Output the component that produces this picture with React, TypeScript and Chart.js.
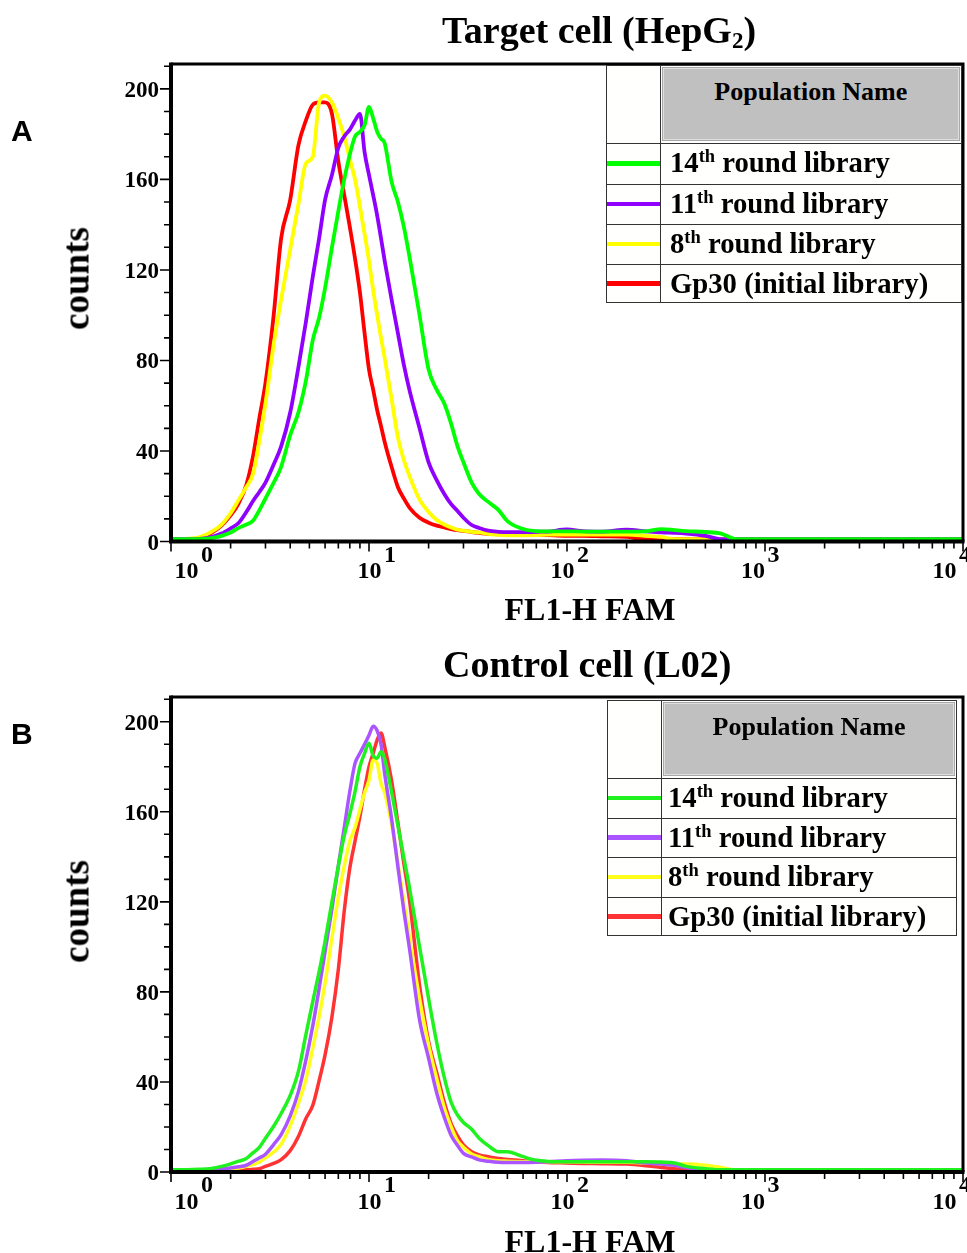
import React, { useEffect, useRef } from "react";
import { Chart, registerables } from "chart.js";

Chart.register(...registerables);

const SERIF = '"Liberation Serif", "Times New Roman", Times, serif';
const SANS = '"Liberation Sans", Arial, Helvetica, sans-serif';

// FL1-H FAM channel intensities shared by all histograms (log axis)
const fluorescence = [
  1, 1.2, 1.4, 1.6, 1.8, 2, 2.2, 2.4, 2.6, 2.8,
  3, 3.3, 3.6, 4, 4.4, 4.8, 5.2, 5.6, 6, 6.5,
  7, 7.5, 8, 8.5, 9, 9.5, 10, 10.5, 11, 11.5,
  12, 13, 14, 15, 16, 18, 20, 22, 24, 26,
  28, 30, 33, 36, 40, 45, 50, 60, 70, 80,
  100, 120, 150, 200, 250, 300, 350, 400, 500, 600,
  700, 800, 1000, 2000, 5000, 10000,
];

// Panel A: target cell (HepG2)
const hepg2Round14 = [
  1, 1, 1, 1.5, 2.5, 4, 6, 7.5, 9.3, 14,
  19, 26, 33, 47, 57, 71, 89, 99, 112, 130,
  146, 160, 171, 179, 181, 184, 192, 187, 181, 178,
  176, 159, 150, 139, 126, 100, 76, 67, 61, 52,
  42, 35, 26, 21, 17.5, 14, 9, 5.5, 4.6, 4.5,
  4.5, 4.4, 4.4, 4.4, 4.5, 5.5, 5, 4.6, 4.2, 3.5,
  1.2, 1, 1, 1, 1, 1,
];
const hepg2Round11 = [
  1, 1, 1.2, 2, 3.5, 5.8, 8.3, 13, 18, 22,
  26, 34, 42, 57, 77, 97, 117, 134, 151, 162,
  174, 179, 182, 186, 189, 172, 162, 153, 144, 134,
  124, 107, 92, 78, 67, 50, 35, 27, 21, 16.5,
  13.5, 10.5, 7.3, 6, 4.8, 4.3, 4.1, 4.1, 4.3, 4.4,
  5.3, 4.6, 4.4, 5.2, 4.5, 4, 3.8, 3.5, 2.5, 1,
  1, 1, 1, 1, 1, 1,
];
const hepg2Round8 = [
  1, 1.2, 2, 4.3, 7.5, 12.5, 18.5, 24, 30, 45,
  61, 87, 107, 129, 149, 167, 170, 194, 197, 194,
  187, 179, 169, 160, 148, 136, 124, 111, 100, 90,
  81, 63, 46, 36, 29, 18.5, 13, 9.5, 7.5, 6.2,
  5.2, 4.8, 4.3, 4, 3.4, 2.9, 2.7, 2.7, 2.8, 3,
  3, 3, 3, 3, 2.5, 2, 1, 1, 1, 1,
  1, 1, 1, 1, 1, 1,
];
const hepg2Gp30 = [
  1, 1, 1.5, 3.8, 7, 11.5, 17, 25, 38, 55,
  70, 100, 134, 151, 175, 186, 193, 194, 194, 189,
  168, 153, 139, 125, 110, 92, 76, 67, 58, 51,
  44, 33, 24, 19, 15, 10.5, 8.3, 7, 6.2, 5.5,
  5, 4.7, 4.2, 3.8, 3.4, 3.2, 3, 3, 3, 2.8,
  2.5, 2.5, 2.3, 2, 1, 1, 1, 1, 1, 1,
  1, 1, 1, 1, 1, 1,
];

// Panel B: control cell (L02)
const l02Round14 = [
  1, 1, 1.2, 1.6, 2.5, 3.6, 4.8, 6, 8.6, 11.1,
  15, 20.3, 26, 34, 44.7, 61, 75.7, 89, 102.5, 120,
  135.8, 149.4, 159, 169, 180, 186, 190.5, 184.8, 183.8, 186.7,
  183.5, 168.8, 153.8, 139.6, 126.5, 100, 77, 57.3, 42, 30.9,
  25.3, 22, 19, 15, 11.7, 9, 9, 6.8, 5.2, 4.7,
  4.5, 4.5, 4.5, 4.5, 4.5, 4.4, 4, 2.5, 1.5, 1,
  1, 1, 1, 1, 1, 1,
];
const l02Round11 = [
  1, 1, 1, 1.2, 1.4, 1.8, 2.3, 3, 4.7, 6.3,
  7.9, 12.2, 16.6, 24.9, 35.7, 49.7, 64.9, 81.5, 98, 117,
  136, 153, 169, 181.5, 186, 190, 194, 198, 196, 190,
  177, 157, 135.5, 116, 99.5, 67.6, 50.5, 35, 24.3, 16.2,
  11.8, 8.3, 6.7, 5.4, 4.8, 4.3, 4.2, 4.2, 4.3, 4.5,
  5, 5.2, 5.3, 5, 4, 3.5, 3, 2, 1, 1,
  1, 1, 1, 1, 1, 1,
];
const l02Round8 = [
  1, 1, 1, 1, 1.2, 1.4, 1.8, 2.5, 3.4, 4.5,
  6.3, 8.9, 12.3, 20.5, 30.5, 41, 55, 69, 84, 104,
  122, 136, 147, 153, 161, 168.5, 174, 183, 181.5, 172.6,
  168.5, 154.6, 137, 120, 104.5, 77, 56.4, 41.3, 28.5, 20,
  13.8, 11, 8, 6.8, 5.6, 5, 4.8, 4.6, 4.5, 4.5,
  4.5, 4.4, 4.3, 4.3, 4, 3.8, 3.5, 3.5, 3, 2,
  1, 1, 1, 1, 1, 1,
];
const l02Gp30 = [
  1, 1, 1, 1, 1, 1, 1, 1, 1.2, 1.5,
  2.5, 3.8, 5.5, 9.5, 15.8, 23.8, 29.6, 40.6, 52, 69,
  90, 116, 135, 147, 158, 170, 180, 186, 192, 195,
  189, 174, 155, 137, 121, 83, 58, 44, 31, 21.5,
  16, 12, 9, 7.6, 6.8, 6, 5.6, 5, 4.5, 4.2,
  4, 3.8, 3.7, 3.5, 2.8, 2, 1.5, 1, 1, 1,
  1, 1, 1, 1, 1, 1,
];

const seriesLabels = [
  "14th round library",
  "11th round library",
  "8th round library",
  "Gp30 (initial library)",
];
const hepg2Colors = ["#00ff00", "#8f00ff", "#ffff00", "#ff0000"];
const l02Colors = ["#1ff21f", "#aa55ff", "#ffff1e", "#ff3333"];

const yTickValues = [0, 40, 80, 120, 160, 200];
const xDecadeValues = [1, 10, 100, 1000, 10000];
const xDecadeExponents = ["0", "1", "2", "3", "4"];
const Y_MAX = 211;

// horizontal shift of each "10^n" label relative to its tick
const xLabelShift = [15.5, 0.5, -4.5, -12, -18.5];

const axisDecor = {
  id: "axisDecor",
  afterDraw(chart: any) {
    const { ctx, chartArea, scales } = chart;
    const { left, right, top, bottom } = chartArea;
    const xs = scales.x;
    const ys = scales.y;
    ctx.save();
    ctx.strokeStyle = "#000";
    ctx.lineWidth = 1.6;
    ctx.beginPath();
    const maxV = xDecadeValues[xDecadeValues.length - 1];
    for (let k = 0; k < xDecadeValues.length; k++) {
      for (let m = 1; m <= 9; m++) {
        const v = xDecadeValues[k] * m;
        if (v > maxV) break;
        const px = xs.getPixelForValue(v);
        const len = m === 1 ? 8 : 5;
        ctx.moveTo(px, bottom);
        ctx.lineTo(px, bottom + 2 + len);
      }
    }
    for (let v = 0; v <= Y_MAX; v += 10) {
      const py = ys.getPixelForValue(v);
      const len = v % 40 === 0 ? 9 : 5;
      ctx.moveTo(left - 2 - len, py);
      ctx.lineTo(left, py);
    }
    ctx.stroke();

    ctx.lineWidth = 3;
    ctx.beginPath();
    ctx.moveTo(left, top);
    ctx.lineTo(right, top);
    ctx.lineTo(right, bottom);
    ctx.stroke();
    ctx.lineWidth = 4;
    ctx.beginPath();
    ctx.moveTo(left, top - 1.5);
    ctx.lineTo(left, bottom);
    ctx.lineTo(right + 1.5, bottom);
    ctx.stroke();

    ctx.fillStyle = "#000";
    ctx.textBaseline = "alphabetic";
    ctx.font = `bold 23px ${SERIF}`;
    ctx.textAlign = "right";
    yTickValues.forEach((v) => {
      const py = ys.getPixelForValue(v);
      ctx.fillText(String(v), left - 12, py + 8);
    });

    ctx.font = `bold 24px ${SERIF}`;
    xDecadeValues.forEach((v, i) => {
      const cx = xs.getPixelForValue(v) + xLabelShift[i];
      const w = ctx.measureText("10").width;
      ctx.textAlign = "center";
      ctx.fillText("10", cx, bottom + 36.5);
      ctx.textAlign = "left";
      ctx.fillText(xDecadeExponents[i], cx + w / 2 + 2.5, bottom + 20);
    });
    ctx.restore();
  },
};

function HistogramCanvas(props: {
  top: number;
  height: number;
  padTop: number;
  padBottom: number;
  series: number[][];
  colors: string[];
  lineWidth: number;
}) {
  const ref = useRef<HTMLCanvasElement | null>(null);
  useEffect(() => {
    if (!ref.current) return;
    const chart = new Chart(ref.current, {
      type: "line",
      data: {
        datasets: props.series.map((vals, i) => ({
          label: seriesLabels[i],
          data: fluorescence.map((x, j) => ({ x, y: vals[j] })),
          borderColor: props.colors[i],
          backgroundColor: props.colors[i],
          borderWidth: props.lineWidth,
          pointRadius: 0,
          cubicInterpolationMode: "monotone",
          fill: false,
        })),
      },
      options: {
        animation: false,
        responsive: false,
        maintainAspectRatio: false,
        events: [],
        layout: {
          padding: { left: 171, right: 4, top: props.padTop, bottom: props.padBottom },
        },
        plugins: {
          legend: { display: false },
          title: { display: false },
          tooltip: { enabled: false },
        },
        scales: {
          x: { type: "logarithmic", min: 1, max: 10000, display: false },
          y: { type: "linear", min: 0, max: Y_MAX, display: false },
        },
      },
      plugins: [axisDecor],
    } as any);
    return () => chart.destroy();
  }, []);
  return (
    <canvas
      ref={ref}
      width={967}
      height={props.height}
      style={{ position: "absolute", left: 0, top: props.top, width: 967, height: props.height }}
    />
  );
}

function Txt(props: {
  x: number;
  baseline: number;
  size: number;
  align?: "left" | "center";
  family?: string;
  width?: number;
  children: React.ReactNode;
}) {
  const family = props.family || SERIF;
  const k = family === SANS ? 0.8465 : 0.8375;
  const width = props.width || 400;
  const left = props.align === "center" ? props.x - width / 2 : props.x;
  return (
    <div
      style={{
        position: "absolute",
        left,
        top: props.baseline - k * props.size,
        width,
        textAlign: props.align || "left",
        fontFamily: family,
        fontWeight: "bold",
        fontSize: props.size,
        lineHeight: `${props.size}px`,
        whiteSpace: "nowrap",
        color: "#000",
      }}
    >
      {props.children}
    </div>
  );
}

function Counts(props: { cx: number; cy: number }) {
  return (
    <div
      style={{
        position: "absolute",
        left: props.cx - 80,
        top: props.cy - 18.5,
        width: 160,
        height: 37,
        lineHeight: "37px",
        textAlign: "center",
        fontFamily: SERIF,
        fontWeight: "bold",
        fontSize: 37,
        transform: "rotate(-90deg)",
        color: "#000",
      }}
    >
      counts
    </div>
  );
}

function LegendLabel({ text }: { text: string }) {
  const m = text.match(/^(\d+)(th)(.*)$/);
  if (!m) return <>{text}</>;
  return (
    <>
      {m[1]}
      <span style={{ fontSize: 18.5, verticalAlign: "10px", lineHeight: 0 }}>{m[2]}</span>
      {m[3]}
    </>
  );
}

function LegendTable(props: {
  left: number;
  right: number;
  top: number;
  colX: number;
  edges: number[];
  textX: number;
  colors: string[];
}) {
  const { left, right, top, colX, edges, textX, colors } = props;
  const bottom = edges[edges.length - 1];
  const els: React.ReactNode[] = [];
  els.push(
    <div
      key="box"
      style={{
        position: "absolute",
        left,
        top,
        width: right - left,
        height: bottom - top,
        border: "1px solid #333",
        boxSizing: "border-box",
        background: "#fffffd",
      }}
    />
  );
  els.push(
    <div
      key="hdr"
      style={{
        position: "absolute",
        left: colX + 2,
        top: top + 2,
        width: right - colX - 4,
        height: edges[0] - top - 4,
        background: "#c0c0c0",
        border: "1px solid #a8a8a8",
        boxShadow: "inset 0 0 0 1px #dedede",
        boxSizing: "border-box",
      }}
    />
  );
  els.push(
    <div
      key="vsep"
      style={{ position: "absolute", left: colX, top, width: 1, height: bottom - top, background: "#333" }}
    />
  );
  for (let i = 0; i < edges.length - 1; i++) {
    els.push(
      <div
        key={"h" + i}
        style={{ position: "absolute", left, top: edges[i], width: right - left, height: 1, background: "#333" }}
      />
    );
  }
  els.push(
    <Txt key="hdrtxt" x={(colX + right) / 2} baseline={top + 36} size={26} align="center" width={300}>
      Population Name
    </Txt>
  );
  seriesLabels.forEach((lab, i) => {
    const rTop = edges[i];
    const rBot = edges[i + 1];
    const mid = (rTop + rBot) / 2;
    els.push(
      <div
        key={"ln" + i}
        style={{ position: "absolute", left: left + 1, top: mid - 2.25, width: colX - left - 1, height: 4.5, background: colors[i] }}
      />
    );
    els.push(
      <Txt key={"t" + i} x={textX} baseline={rTop + 29.5} size={28.7}>
        <LegendLabel text={lab} />
      </Txt>
    );
  });
  return <>{els}</>;
}

export default function App() {
  return (
    <div
      style={{
        position: "absolute",
        left: 0,
        top: 0,
        width: 967,
        height: 1253,
        overflow: "hidden",
        background: "#fff",
      }}
    >
      <HistogramCanvas
        top={0}
        height={633}
        padTop={64}
        padBottom={91.5}
        series={[hepg2Round14, hepg2Round11, hepg2Round8, hepg2Gp30]}
        colors={hepg2Colors}
        lineWidth={3.8}
      />
      <HistogramCanvas
        top={633}
        height={620}
        padTop={64}
        padBottom={81}
        series={[l02Round14, l02Round11, l02Round8, l02Gp30]}
        colors={l02Colors}
        lineWidth={3.5}
      />

      <Txt x={442} baseline={43} size={38}>
        Target cell (HepG
        <span style={{ fontSize: 23, verticalAlign: "-5px", lineHeight: 0 }}>2</span>)
      </Txt>
      <Txt x={443} baseline={677} size={38}>
        Control cell (L02)
      </Txt>

      <Txt x={590} baseline={620} size={32} align="center" width={320}>
        FL1-H FAM
      </Txt>
      <Txt x={590} baseline={1251.5} size={32} align="center" width={320}>
        FL1-H FAM
      </Txt>

      <Counts cx={75.5} cy={278.5} />
      <Counts cx={75.5} cy={911} />

      <Txt x={11} baseline={141} size={30} family={SANS}>
        A
      </Txt>
      <Txt x={11} baseline={744} size={30} family={SANS}>
        B
      </Txt>

      <LegendTable
        left={606}
        right={962}
        top={65}
        colX={659.5}
        edges={[143, 184, 224, 264, 303]}
        textX={670}
        colors={hepg2Colors}
      />
      <LegendTable
        left={607}
        right={957}
        top={700}
        colX={661}
        edges={[778, 818, 857, 897, 936]}
        textX={668}
        colors={l02Colors}
      />
    </div>
  );
}
